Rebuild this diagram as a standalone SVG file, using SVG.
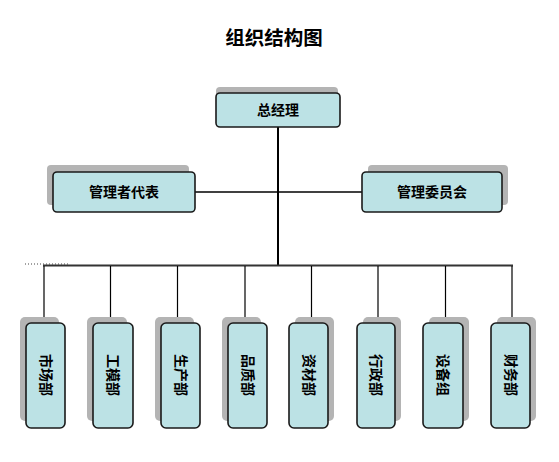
<svg xmlns="http://www.w3.org/2000/svg" width="559" height="462" viewBox="0 0 559 462">
<style>
.t{font-family:"Liberation Sans","Noto Sans CJK SC",sans-serif;font-weight:bold;fill:#000}
.box{fill:#BCE2E5;stroke:#1a1a1a;stroke-width:1.6}
.sh{fill:#B4B4B4}
.lbl{font-size:14px;text-anchor:middle;dominant-baseline:central}
.ln{stroke:#000;fill:none}
</style>
<rect width="559" height="462" fill="#fff"/>
<text class="t" x="274" y="45" font-size="19.5" text-anchor="middle">组织结构图</text>
<g id="connectors">
<line class="ln" x1="278" y1="127" x2="278" y2="266" stroke-width="2"/>
<line class="ln" x1="194" y1="192" x2="362" y2="192" stroke-width="1.5"/>
<line x1="43" y1="265.5" x2="513" y2="265.5" stroke="#333" stroke-width="2"/>
<line x1="25" y1="264" x2="68" y2="264" stroke="#444" stroke-width="1" stroke-dasharray="1,2"/>
<g class="ln" stroke-width="1.2">
<line x1="44" y1="266" x2="44" y2="323"/>
<line x1="110.5" y1="266" x2="110.5" y2="323"/>
<line x1="177.5" y1="266" x2="177.5" y2="323"/>
<line x1="245" y1="266" x2="245" y2="323"/>
<line x1="311.5" y1="266" x2="311.5" y2="323"/>
<line x1="378" y1="266" x2="378" y2="323"/>
<line x1="445.5" y1="266" x2="445.5" y2="323"/>
<line x1="512" y1="266" x2="512" y2="323"/>
</g>
</g>
<g id="n-zjl">
<rect class="sh" x="216" y="87" width="122" height="34" rx="4"/>
<rect class="box" x="216" y="93" width="124" height="34" rx="4"/>
<text class="t lbl" x="278" y="110">总经理</text>
</g>
<g id="n-dbr">
<rect class="sh" x="47" y="165" width="142" height="40" rx="4"/>
<rect class="box" x="53" y="172" width="142" height="40" rx="4"/>
<text class="t lbl" x="124" y="192">管理者代表</text>
</g>
<g id="n-wyh">
<rect class="sh" x="368" y="165" width="140" height="40" rx="4"/>
<rect class="box" x="362" y="172" width="140" height="40" rx="4"/>
<text class="t lbl" x="432" y="192">管理委员会</text>
</g>
<g id="n-scb">
<rect class="sh" x="20" y="317" width="39" height="104" rx="5"/>
<rect class="box" x="26" y="323" width="39" height="105" rx="5"/>
<text class="t lbl" transform="translate(45.5 375) rotate(90)">市场部</text>
</g>
<g id="n-gmb">
<rect class="sh" x="87" y="317" width="40" height="104" rx="5"/>
<rect class="box" x="93" y="323" width="40" height="105" rx="5"/>
<text class="t lbl" transform="translate(113 375) rotate(90)">工模部</text>
</g>
<g id="n-scb2">
<rect class="sh" x="155" y="317" width="39" height="104" rx="5"/>
<rect class="box" x="161" y="323" width="39" height="105" rx="5"/>
<text class="t lbl" transform="translate(180.5 375) rotate(90)">生产部</text>
</g>
<g id="n-pzb">
<rect class="sh" x="222" y="317" width="39" height="104" rx="5"/>
<rect class="box" x="228" y="323" width="39" height="105" rx="5"/>
<text class="t lbl" transform="translate(247.5 375) rotate(90)">品质部</text>
</g>
<g id="n-zcb">
<rect class="sh" x="295" y="317" width="39" height="104" rx="5"/>
<rect class="box" x="289" y="323" width="39" height="105" rx="5"/>
<text class="t lbl" transform="translate(308.5 375) rotate(90)">资材部</text>
</g>
<g id="n-xzb">
<rect class="sh" x="363" y="317" width="38" height="104" rx="5"/>
<rect class="box" x="357" y="323" width="38" height="105" rx="5"/>
<text class="t lbl" transform="translate(376 375) rotate(90)">行政部</text>
</g>
<g id="n-sbz">
<rect class="sh" x="429" y="317" width="40" height="104" rx="5"/>
<rect class="box" x="423" y="323" width="40" height="105" rx="5"/>
<text class="t lbl" transform="translate(443 375) rotate(90)">设备组</text>
</g>
<g id="n-cwb">
<rect class="sh" x="497" y="317" width="39" height="104" rx="5"/>
<rect class="box" x="491" y="323" width="39" height="105" rx="5"/>
<text class="t lbl" transform="translate(510.5 375) rotate(90)">财务部</text>
</g>
</svg>
